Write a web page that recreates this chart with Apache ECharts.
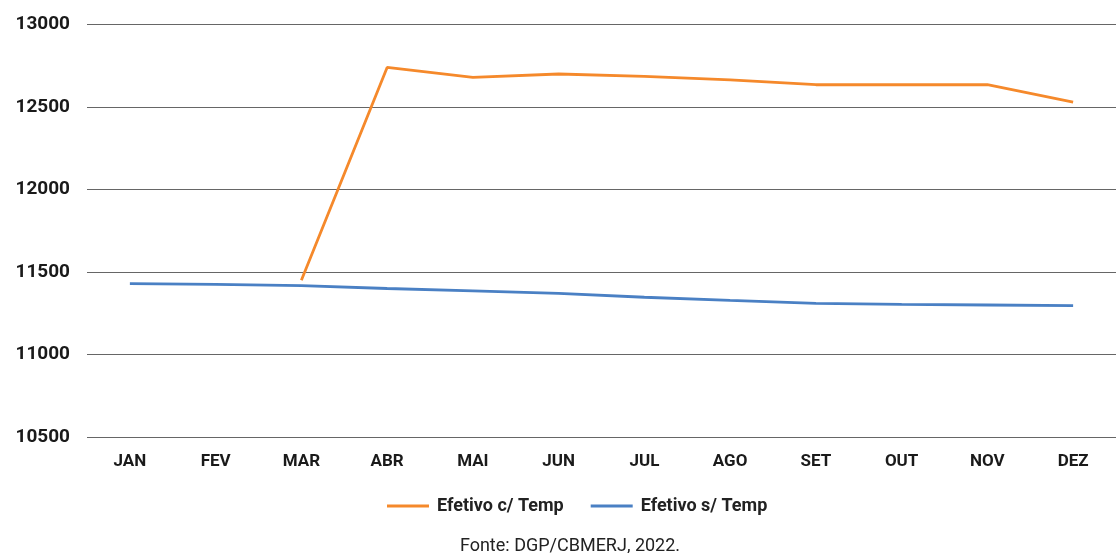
<!DOCTYPE html>
<html>
<head>
<meta charset="utf-8">
<script src="https://cdn.jsdelivr.net/npm/echarts@6/dist/echarts.min.js"></script>
<style>
  html, body { margin: 0; padding: 0; background: #fff; }
  #chart { width: 1116px; height: 553px; }
</style>
</head>
<body>
<div id="chart"></div>
<script>
// meses
var months = ['JAN', 'FEV', 'MAR', 'ABR', 'MAI', 'JUN', 'JUL', 'AGO', 'SET', 'OUT', 'NOV', 'DEZ'];
// efetivo com temporarios (so a partir de marco)
var comTemp = [null, null, 11450, 12740, 12680, 12700, 12685, 12665, 12635, 12635, 12635, 12530];
// efetivo sem temporarios
var semTemp = [11430, 11425, 11417, 11400, 11386, 11370, 11347, 11328, 11310, 11304, 11300, 11296];
var seriesNames = ['Efetivo c/ Temp', 'Efetivo s/ Temp'];
var sourceText = 'Fonte: DGP/CBMERJ, 2022.';

var chart = echarts.init(document.getElementById('chart'));
var font = 'Roboto, "Noto Sans", sans-serif';

var option = {
    backgroundColor: '#fff',
    animation: false,
    title: {
        text: sourceText,
        left: 570,
        top: 537,
        padding: 0,
        textAlign: 'center',
        textStyle: { fontFamily: font, fontSize: 18, fontWeight: 400, color: '#222' }
    },
    legend: {
        left: 387,
        top: 497,
        padding: 0,
        icon: 'rect',
        itemWidth: 42,
        itemHeight: 3,
        itemGap: 27,
        textStyle: { fontFamily: font, fontSize: 18, fontWeight: 'bold', color: '#222', padding: [0, 0, 0, 3] },
        data: seriesNames
    },
    grid: {
        left: 87,
        right: -1,
        top: 24.5,
        bottom: 116
    },
    xAxis: {
        type: 'category',
        data: months,
        boundaryGap: true,
        axisLine: { show: false },
        axisTick: { show: false },
        axisLabel: { fontFamily: font, fontSize: 17, fontWeight: 'bold', color: '#1a1a1a', margin: 16 }
    },
    yAxis: {
        type: 'value',
        min: 10500,
        max: 13000,
        interval: 500,
        axisLine: { show: false },
        axisTick: { show: false },
        axisLabel: {
            fontFamily: font, fontSize: 19, fontWeight: 'bold', color: '#1a1a1a', margin: 17,
            formatter: function (v) { return String(v); }
        },
        splitLine: { lineStyle: { color: '#666', width: 1.2 } }
    },
    series: [
        {
            name: seriesNames[0],
            type: 'line',
            data: comTemp,
            symbol: 'none',
            color: '#F5892B',
            lineStyle: { width: 2.8, color: '#F5892B' }
        },
        {
            name: seriesNames[1],
            type: 'line',
            data: semTemp,
            symbol: 'none',
            color: '#4A80C4',
            lineStyle: { width: 2.8, color: '#4A80C4' }
        }
    ]
};
option && chart.setOption(option);
</script>
</body>
</html>
